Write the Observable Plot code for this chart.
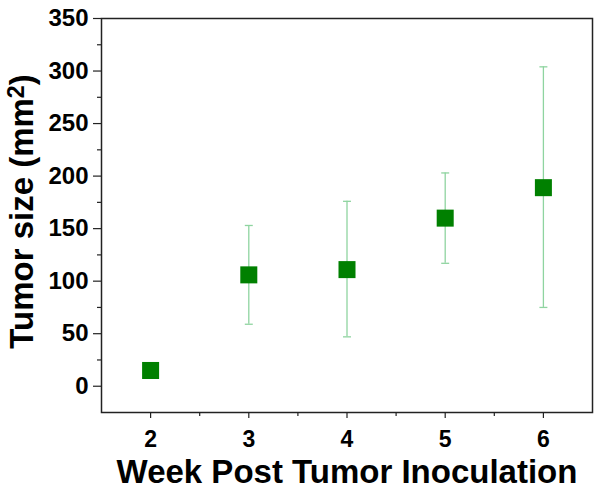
<!DOCTYPE html>
<html>
<head>
<meta charset="utf-8">
<script src="https://cdn.jsdelivr.net/npm/d3@7"></script>
<script src="https://cdn.jsdelivr.net/npm/@observablehq/plot@0.6"></script>
<style>
  html, body { margin: 0; padding: 0; background: #fff; }
  #chart { width: 600px; height: 497px; }
</style>
</head>
<body>
<div id="chart"></div>
<script>
const weeks = [2, 3, 4, 5, 6];
const meanSize = [15, 106, 111, 160, 189];
const lowSize = [null, 59, 47, 117, 75];
const highSize = [null, 153, 176, 203, 304];
const yMajorTicks = [0, 50, 100, 150, 200, 250, 300, 350];
const yMinorTicks = [25, 75, 125, 175, 225, 275, 325];
const xMajorTicks = [2, 3, 4, 5, 6];
const xMinorTicks = [2.5, 3.5, 4.5, 5.5];
const xTitle = "Week Post Tumor Inoculation";
const yTitleMain = "Tumor size (mm";
const yTitleSup = "2";
const yTitleEnd = ")";

const rows = weeks.map((w, i) => ({week: w, mean: meanSize[i], lo: lowSize[i], hi: highSize[i]}));
const errRows = rows.filter(d => d.lo != null);

const capSymbol = {
  draw(ctx, size) {
    const w = Math.sqrt(size) / 2;
    ctx.moveTo(-w, 0);
    ctx.lineTo(w, 0);
  }
};

const font = "'Liberation Sans', Arial, sans-serif";
const errColor = "#8fd4a0";

const plot = Plot.plot({
  width: 600,
  height: 497,
  marginLeft: 101,
  marginRight: 8,
  marginTop: 18,
  marginBottom: 85,
  style: {fontFamily: font, background: "#fff", color: "#000"},
  x: {domain: [1.5, 6.5]},
  y: {domain: [-25, 350]},
  marks: [
    Plot.frame({stroke: "#222", strokeWidth: 1.5}),
    Plot.axisY(yMajorTicks, {tickSize: 8, tickPadding: 5, fontSize: 24, fontWeight: "bold", label: null, stroke: "#222", strokeWidth: 1.2}),
    Plot.axisY(yMinorTicks, {tickSize: 4, text: null, label: null, stroke: "#222", strokeWidth: 1.2}),
    Plot.axisX(xMajorTicks, {tickSize: 6, tickPadding: 12, fontSize: 23, fontWeight: "bold", label: null, stroke: "#222", strokeWidth: 1.2}),
    Plot.axisX(xMinorTicks, {tickSize: 4, text: null, label: null, stroke: "#222", strokeWidth: 1.2}),
    Plot.ruleX(errRows, {x: "week", y1: "lo", y2: "hi", stroke: errColor, strokeWidth: 1.3}),
    Plot.dot(errRows, {x: "week", y: "lo", symbol: capSymbol, r: 4.5, stroke: errColor, strokeWidth: 1.3, fill: "none"}),
    Plot.dot(errRows, {x: "week", y: "hi", symbol: capSymbol, r: 4.5, stroke: errColor, strokeWidth: 1.3, fill: "none"}),
    Plot.dot(rows, {x: "week", y: "mean", symbol: "square", r: 9.6, fill: "#008000", stroke: "none"}),
    Plot.text([xTitle], {frameAnchor: "bottom", dy: 60, lineAnchor: "middle", textAnchor: "middle", fontSize: 33, fontWeight: "bold", fill: "#000"}),
    Plot.text([yTitleMain + yTitleSup + yTitleEnd], {frameAnchor: "left", dx: -79, dy: -4, rotate: -90, lineAnchor: "middle", textAnchor: "middle", fontSize: 33, fontWeight: "bold", fill: "#000"})
  ]
});

// turn the "2" of the y title into a real superscript
d3.select(plot).selectAll("text").each(function() {
  if (this.textContent === yTitleMain + yTitleSup + yTitleEnd) {
    const t = d3.select(this);
    t.text(null);
    t.append("tspan").text(yTitleMain);
    t.append("tspan").attr("dy", "-0.4em").attr("font-size", "0.7em").text(yTitleSup);
    t.append("tspan").attr("dy", "0.28em").text(yTitleEnd);
  }
});

document.getElementById("chart").appendChild(plot);
</script>
</body>
</html>
